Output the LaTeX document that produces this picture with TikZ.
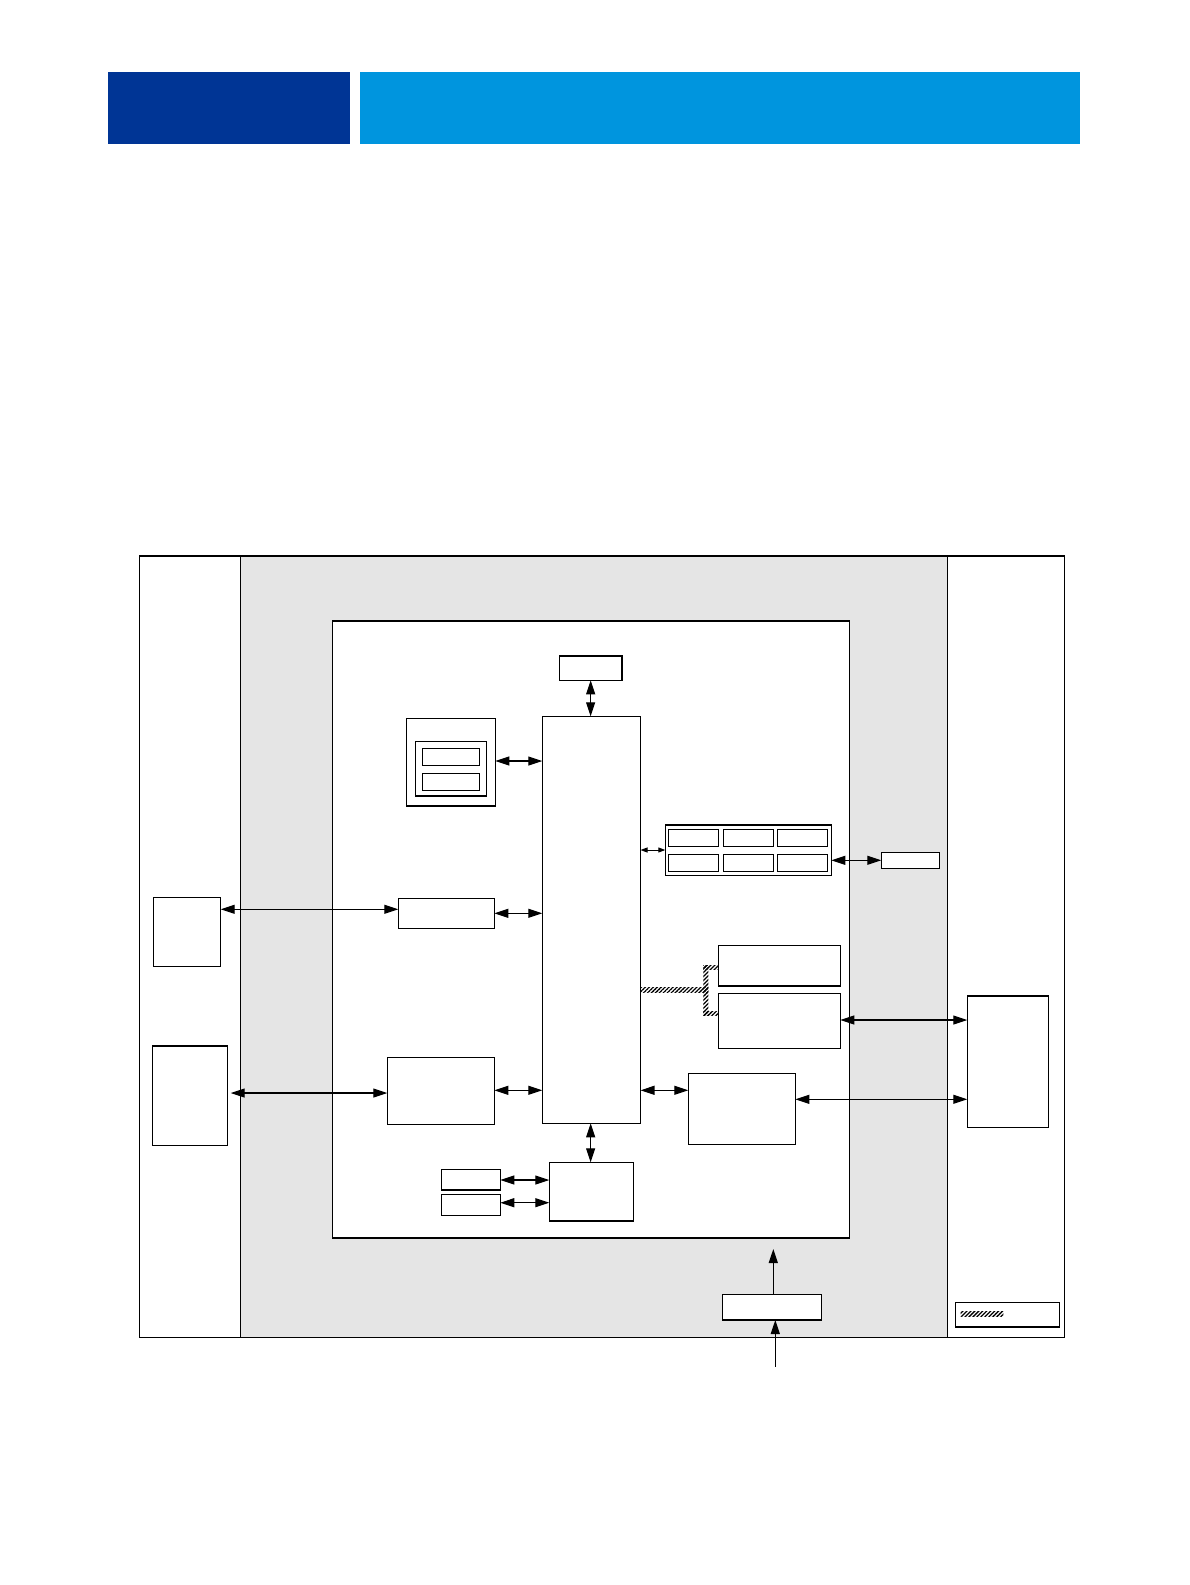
\documentclass[tikz,border=0pt]{standalone}
\usetikzlibrary{arrows.meta,fit,patterns.meta}
\definecolor{hdrdark}{RGB}{0,53,149}
\definecolor{hdrlight}{RGB}{0,149,222}
\definecolor{panel}{RGB}{229,229,229}
\begin{document}
\begin{tikzpicture}[x=1pt,y=-1pt,
  box/.style={draw, line width=1.2pt, fill=white, inner sep=0pt, outer sep=0pt},
  biarrow/.style={line width=1.1pt, {Triangle[length=14pt,width=9pt]}-{Triangle[length=14pt,width=9pt]}},
  smallarrow/.style={line width=0.9pt, {Triangle[length=7pt,width=5pt]}-{Triangle[length=7pt,width=5pt]}},
  onearrow/.style={line width=1.1pt, -{Triangle[length=14pt,width=9pt]}},
  hatch/.style={pattern={Lines[angle=45,distance=2.8pt,line width=1.3pt]}}]
\useasboundingbox (0,0) rectangle (1189,1585);
% header
\node[fill=hdrdark, inner sep=0pt, fit={(108,72) (350,143.7)}] (hdrL) {};
\node[fill=hdrlight, inner sep=0pt, fit={(360,72) (1080,143.7)}] (hdrR) {};
% frames
\node[box, fit={(139.5,556) (1064.5,1337.5)}] (outer) {};
\node[box, fill=panel, fit={(240.3,556) (947.5,1337.5)}] (panel) {};
\node[box, fit={(332.3,621) (849.5,1238)}] (inner) {};
% central blocks
\node[box, fit={(559.3,656) (622,680.3)}] (topb) {};
\node[box, fit={(542.3,716.3) (640.5,1123.3)}] (cpu) {};
\node[box, fit={(406.7,718.3) (495.3,806)}] (memo) {};
\node[box, fit={(415.3,741.3) (486.3,796)}] (memoin) {};
\node[box, fit={(422.3,748.3) (479.3,765.3)}] (mem1) {};
\node[box, fit={(422.3,773.3) (479.3,790.3)}] (mem2) {};
% grid
\node[box, fit={(665.3,825) (831.3,875.3)}] (grid) {};
\node[box, fit={(668.3,829.3) (718.3,846.3)}] (g11) {};
\node[box, fit={(723.3,829.3) (773.3,846.3)}] (g12) {};
\node[box, fit={(777.3,829.3) (827.3,846.3)}] (g13) {};
\node[box, fit={(668.3,854.3) (718.3,871.3)}] (g21) {};
\node[box, fit={(723.3,854.3) (773.3,871.3)}] (g22) {};
\node[box, fit={(777.3,854.3) (827.3,871.3)}] (g23) {};
\node[box, fit={(881.3,852.3) (939.3,868.3)}] (rsb) {};
% left side
\node[box, fit={(153.3,897.3) (220.7,966.3)}] (left1) {};
\node[box, fit={(398.3,898.3) (494.3,928.3)}] (mid1) {};
\node[box, fit={(152.3,1046) (227.3,1145.3)}] (left2) {};
\node[box, fit={(387.3,1057.3) (494.3,1124.3)}] (mid2) {};
% right side
\node[box, fit={(718.3,945.3) (840.3,986)}] (boxA) {};
\node[box, fit={(718.3,993.3) (840.3,1048.3)}] (boxB) {};
\node[box, fit={(688.3,1073.3) (795.3,1144.3)}] (boxC) {};
\node[box, fit={(967.3,995.9) (1048.3,1127.3)}] (rbox) {};
% bottom
\node[box, fit={(549.3,1162.3) (633.7,1221)}] (bb) {};
\node[box, fit={(441.3,1169.3) (500.3,1190)}] (s1) {};
\node[box, fit={(441.3,1194.3) (500.3,1215.3)}] (s2) {};
\node[box, fit={(722.3,1294.3) (821.3,1320)}] (pwr) {};
\node[box, fit={(955.3,1302.7) (1059.3,1327)}] (legend) {};
% connectors
\draw[biarrow] (topb.south) -- (cpu.north -| topb.south);
\draw[biarrow] (memo.east |- 0,761) -- (cpu.west |- 0,761);
\draw[smallarrow] (cpu.east |- 0,850) -- (grid.west |- 0,850);
\draw[biarrow] (grid.east |- 0,860.3) -- (rsb.west |- 0,860.3);
\draw[biarrow] (left1.east |- 0,909.3) -- (mid1.west |- 0,909.3);
\draw[biarrow] (mid1.east |- 0,913.3) -- (cpu.west |- 0,913.3);
\draw[biarrow] (230.7,1093) -- (mid2.west |- 0,1093);
\draw[biarrow] (mid2.east |- 0,1090.3) -- (cpu.west |- 0,1090.3);
\draw[biarrow] (cpu.east |- 0,1090.3) -- (boxC.west |- 0,1090.3);
\draw[biarrow] (boxC.east |- 0,1099.3) -- (rbox.west |- 0,1099.3);
\draw[biarrow] (boxB.east |- 0,1020) -- (rbox.west |- 0,1020);
\draw[biarrow] (cpu.south -| topb.south) -- (bb.north -| topb.south);
\draw[biarrow] (s1.east |- 0,1180) -- (bb.west |- 0,1180);
\draw[biarrow] (s2.east |- 0,1202.7) -- (bb.west |- 0,1202.7);
\coordinate (pwrtip) at (773.3,1249);
\coordinate (feed) at (775.3,1366.7);
\draw[onearrow] (pwr.north -| pwrtip) -- (pwrtip);
\draw[onearrow] (feed) -- (pwr.south -| feed);
% hatched bus
\fill[hatch] (cpu.east |- 0,987.7) rectangle (708.3,992.7);
\fill[hatch] (703.3,965.3) rectangle (708.3,1015.7);
\fill[hatch] (703.3,965.3) rectangle (boxA.west |- 0,969);
\fill[hatch] (703.3,1011) rectangle (boxB.west |- 0,1015.7);
\fill[hatch] (960.7,1311.5) rectangle (1003.3,1316.5);
\end{tikzpicture}
\end{document}
